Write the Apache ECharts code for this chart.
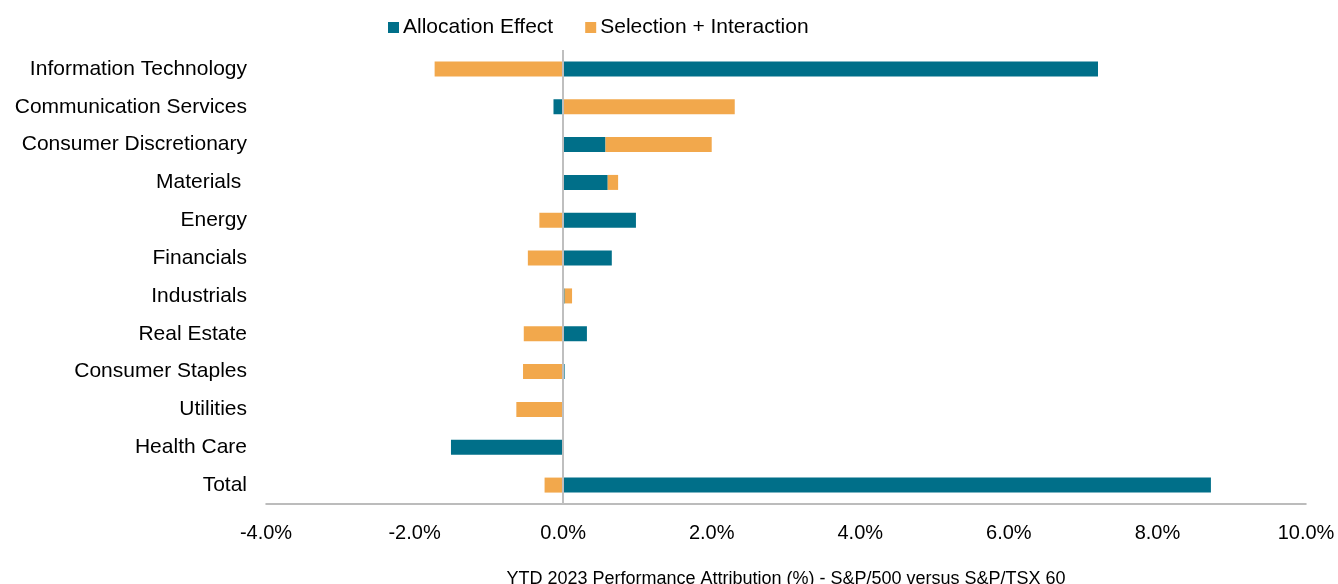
<!DOCTYPE html>
<html>
<head>
<meta charset="utf-8">
<title>YTD 2023 Performance Attribution</title>
<script src="https://cdn.jsdelivr.net/npm/echarts@6/dist/echarts.min.js"></script>
<style>
    html, body { margin: 0; padding: 0; background: #fff; }
    #echartsArea { width: 1338px; height: 584px; }
</style>
</head>
<body>
<div id="echartsArea"></div>
<script>
// sector names, top to bottom
var categories = ['Information Technology', 'Communication Services', 'Consumer Discretionary', 'Materials ',
    'Energy', 'Financials', 'Industrials', 'Real Estate', 'Consumer Staples', 'Utilities', 'Health Care', 'Total'];

// values in %
var allocationEffect = [7.20, -0.13, 0.57, 0.60, 0.98, 0.655, 0.02, 0.32, 0.02, -0.01, -1.51, 8.72];
var selectionInteraction = [-1.73, 2.31, 1.43, 0.14, -0.32, -0.475, 0.10, -0.53, -0.54, -0.62, 0, -0.25];

var xMin = -4;
var xMax = 10;
var xStep = 2;

var dom = document.getElementById('echartsArea');
var myChart = echarts.init(dom);

var fontName = '"Liberation Sans", Arial, sans-serif';

var option = {
    animation: false,
    textStyle: {
        fontFamily: fontName
    },
    legend: {
        top: 12,
        left: 383,
        itemWidth: 11,
        itemHeight: 11,
        itemGap: 32,
        icon: 'rect',
        textStyle: {
            fontSize: 21,
            color: '#000',
            padding: [0, 0, 0, -1]
        },
        data: ['Allocation Effect', 'Selection + Interaction']
    },
    grid: {
        left: 266,
        right: 32,
        top: 50,
        bottom: 80,
        // v6: 不要把坐标轴名称挤进容器
        outerBoundsMode: 'none',
        containLabel: false
    },
    xAxis: {
        type: 'value',
        min: xMin,
        max: xMax,
        interval: xStep,
        name: 'YTD 2023 Performance Attribution (%) - S&P/500 versus S&P/TSX 60',
        nameLocation: 'middle',
        nameGap: 66,
        nameTextStyle: {
            fontSize: 18,
            color: '#000'
        },
        axisLine: {
            show: true,
            onZero: false,
            lineStyle: {
                color: '#a6a6a6',
                width: 1.5
            }
        },
        axisTick: { show: false },
        splitLine: { show: false },
        axisLabel: {
            fontSize: 20,
            color: '#000',
            margin: 19,
            formatter: function (v) {
                return v.toFixed(1) + '%';
            }
        }
    },
    yAxis: {
        type: 'category',
        inverse: true,
        data: categories,
        axisLine: { show: false, onZero: false },
        axisTick: { show: false },
        axisLabel: {
            fontSize: 21,
            color: '#000',
            margin: 19
        }
    },
    series: [
        {
            name: 'Allocation Effect',
            type: 'bar',
            stack: 'total',
            barWidth: 15,
            itemStyle: { color: '#006f89' },
            data: allocationEffect,
            //零线
            markLine: {
                silent: true,
                symbol: 'none',
                label: { show: false },
                lineStyle: {
                    color: '#bfbfbf',
                    width: 2,
                    type: 'solid'
                },
                data: [{ xAxis: 0 }]
            }
        },
        {
            name: 'Selection + Interaction',
            type: 'bar',
            stack: 'total',
            barWidth: 15,
            itemStyle: { color: '#f2a84c' },
            data: selectionInteraction
        }
    ]
};

myChart.setOption(option);
</script>
</body>
</html>
